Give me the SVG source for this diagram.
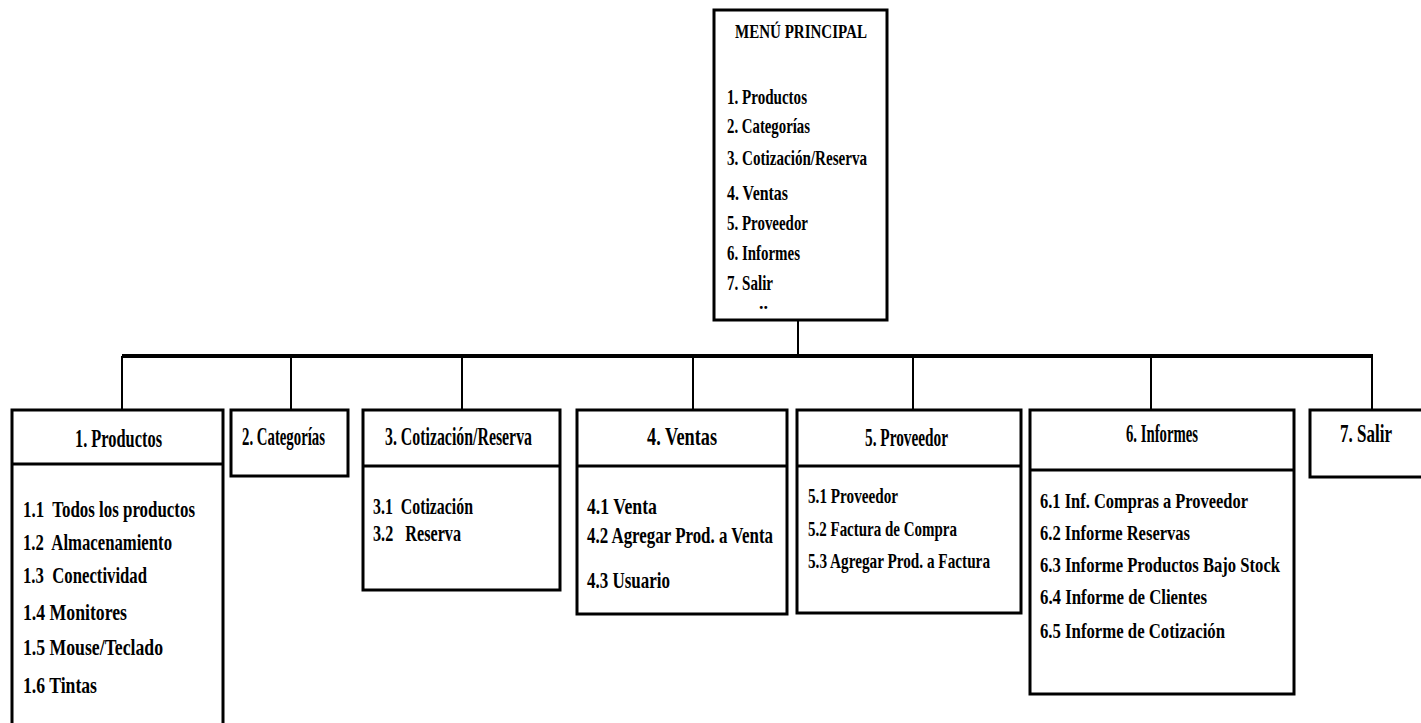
<svg xmlns="http://www.w3.org/2000/svg" width="1421" height="723" viewBox="0 0 1421 723">
<style>
.bg{fill:#ffffff}
.box{fill:#ffffff;stroke:#000000;stroke-width:3}
.div{stroke:#000000;stroke-width:3}
.con{stroke:#000000;stroke-width:2;fill:none}
.bar{stroke:#000000;stroke-width:4;fill:none}
text{font-family:"Liberation Serif","Times New Roman",serif;font-weight:bold;fill:#000000}
.t{font-size:18px}
.m{font-size:22px}
.h{font-size:25px}
.s{font-size:23px}
.n{font-size:22px}
</style>
<rect class="bg" x="0" y="0" width="1421" height="723"/>
<g id="connectors">
<line class="con" x1="798" y1="320" x2="798" y2="356"/>
<line class="bar" x1="122" y1="356" x2="1373" y2="356"/>
<line class="con" x1="122" y1="356" x2="122" y2="410"/>
<line class="con" x1="291" y1="356" x2="291" y2="410"/>
<line class="con" x1="462" y1="356" x2="462" y2="410"/>
<line class="con" x1="693" y1="356" x2="693" y2="410"/>
<line class="con" x1="913" y1="356" x2="913" y2="410"/>
<line class="con" x1="1151" y1="356" x2="1151" y2="410"/>
<line class="con" x1="1372" y1="356" x2="1372" y2="410"/>
</g>
<g id="menu-principal">
<rect class="box" x="714" y="10" width="173" height="310"/>
<text class="t" x="735" y="38" textLength="132" lengthAdjust="spacingAndGlyphs">MENÚ PRINCIPAL</text>
<text class="m" x="727" y="104" textLength="80" lengthAdjust="spacingAndGlyphs">1. Productos</text>
<text class="m" x="727" y="133" textLength="83" lengthAdjust="spacingAndGlyphs">2. Categorías</text>
<text class="m" x="727" y="165" textLength="140" lengthAdjust="spacingAndGlyphs">3. Cotización/Reserva</text>
<text class="m" x="727" y="200" textLength="61" lengthAdjust="spacingAndGlyphs">4. Ventas</text>
<text class="m" x="727" y="230" textLength="81" lengthAdjust="spacingAndGlyphs">5. Proveedor</text>
<text class="m" x="727" y="260" textLength="73" lengthAdjust="spacingAndGlyphs">6. Informes</text>
<text class="m" x="727" y="290" textLength="46" lengthAdjust="spacingAndGlyphs">7. Salir</text>
<text class="t" x="759" y="309" font-size="12">..</text>
</g>
<g id="productos">
<rect class="box" x="12" y="410" width="211" height="330"/>
<line class="div" x1="12" y1="464" x2="223" y2="464"/>
<text class="h" x="75" y="447" textLength="87" lengthAdjust="spacingAndGlyphs">1. Productos</text>
<text class="s" x="23" y="517" textLength="172" lengthAdjust="spacingAndGlyphs">1.1&#160; Todos los productos</text>
<text class="s" x="23" y="550" textLength="149" lengthAdjust="spacingAndGlyphs">1.2&#160; Almacenamiento</text>
<text class="s" x="23" y="583" textLength="124" lengthAdjust="spacingAndGlyphs">1.3&#160; Conectividad</text>
<text class="s" x="23" y="620" textLength="104" lengthAdjust="spacingAndGlyphs">1.4 Monitores</text>
<text class="s" x="23" y="655" textLength="140" lengthAdjust="spacingAndGlyphs">1.5 Mouse/Teclado</text>
<text class="s" x="23" y="693" textLength="74" lengthAdjust="spacingAndGlyphs">1.6 Tintas</text>
</g>
<g id="categorias">
<rect class="box" x="231" y="410" width="117" height="66"/>
<text class="h" x="242" y="445" textLength="83" lengthAdjust="spacingAndGlyphs">2. Categorías</text>
</g>
<g id="cotizacion">
<rect class="box" x="363" y="410" width="197" height="180"/>
<line class="div" x1="363" y1="466" x2="560" y2="466"/>
<text class="h" x="385" y="445" textLength="147" lengthAdjust="spacingAndGlyphs">3. Cotización/Reserva</text>
<text class="s" x="373" y="514" textLength="100" lengthAdjust="spacingAndGlyphs">3.1&#160; Cotización</text>
<text class="s" x="373" y="541" textLength="88" lengthAdjust="spacingAndGlyphs">3.2&#160;&#160; Reserva</text>
</g>
<g id="ventas">
<rect class="box" x="577" y="410" width="210" height="204"/>
<line class="div" x1="577" y1="466" x2="787" y2="466"/>
<text class="h" x="647" y="445" textLength="70" lengthAdjust="spacingAndGlyphs">4. Ventas</text>
<text class="s" x="587" y="514" textLength="70" lengthAdjust="spacingAndGlyphs">4.1 Venta</text>
<text class="s" x="587" y="543" textLength="186" lengthAdjust="spacingAndGlyphs">4.2 Agregar Prod. a Venta</text>
<text class="s" x="587" y="588" textLength="83" lengthAdjust="spacingAndGlyphs">4.3 Usuario</text>
</g>
<g id="proveedor">
<rect class="box" x="797" y="410" width="224" height="203"/>
<line class="div" x1="797" y1="466" x2="1021" y2="466"/>
<text class="h" x="865" y="446" textLength="83" lengthAdjust="spacingAndGlyphs">5. Proveedor</text>
<text class="n" x="808" y="503" textLength="90" lengthAdjust="spacingAndGlyphs">5.1 Proveedor</text>
<text class="n" x="808" y="536" textLength="149" lengthAdjust="spacingAndGlyphs">5.2 Factura de Compra</text>
<text class="n" x="808" y="568" textLength="182" lengthAdjust="spacingAndGlyphs">5.3 Agregar Prod. a Factura</text>
</g>
<g id="informes">
<rect class="box" x="1030" y="410" width="264" height="284"/>
<line class="div" x1="1030" y1="470" x2="1294" y2="470"/>
<text class="h" x="1126" y="442" textLength="72" lengthAdjust="spacingAndGlyphs">6. Informes</text>
<text class="n" x="1040" y="508" textLength="208" lengthAdjust="spacingAndGlyphs">6.1 Inf. Compras a Proveedor</text>
<text class="n" x="1040" y="540" textLength="150" lengthAdjust="spacingAndGlyphs">6.2 Informe Reservas</text>
<text class="n" x="1040" y="572" textLength="240" lengthAdjust="spacingAndGlyphs">6.3 Informe Productos Bajo Stock</text>
<text class="n" x="1040" y="604" textLength="167" lengthAdjust="spacingAndGlyphs">6.4 Informe de Clientes</text>
<text class="n" x="1040" y="638" textLength="185" lengthAdjust="spacingAndGlyphs">6.5 Informe de Cotización</text>
</g>
<g id="salir">
<rect class="box" x="1310" y="410" width="120" height="67"/>
<text class="h" x="1340" y="442" textLength="52" lengthAdjust="spacingAndGlyphs">7. Salir</text>
</g>
</svg>
